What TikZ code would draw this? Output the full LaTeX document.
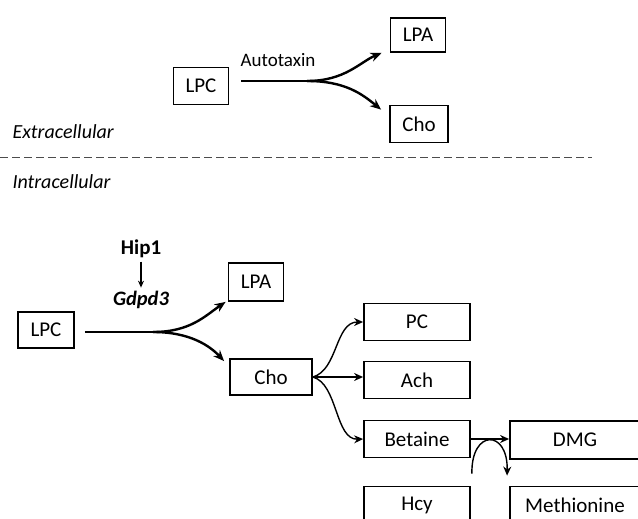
\documentclass[tikz,border=0pt]{standalone}
\usepackage{fontspec}
\setmainfont{Carlito}
\usetikzlibrary{arrows.meta, positioning, calc}

\begin{document}
\begin{tikzpicture}[x=1pt, y=-1pt, >={Stealth[length=11pt, width=9pt]},
    box/.style={draw, line width=1.8pt, minimum height=37pt, inner sep=0pt,
                font=\fontsize{21}{25}\selectfont},
    flow/.style={->, line width=2.4pt},
    fan/.style={->, line width=1.4pt, >={Stealth[length=9pt, width=8pt]}},
    side/.style={font=\fontsize{20}{24}\selectfont\itshape, anchor=west}]

    \useasboundingbox (0,0) rectangle (638,519);
    \clip (0,0) rectangle (638,519);

    % extracellular part:

    \node[box, minimum width=55pt] (lpcout) at (201,86) {LPC};
    \node[box, minimum width=55pt, minimum height=34pt] (lpaout) at (418,35) {LPA};
    \node[box, minimum width=58pt] (choout) at (419,124) {Cho};
    \node[font=\fontsize{19}{23}\selectfont] (atx) at (278,60) {Autotaxin};

    \coordinate (splitout) at (307,81);
    \draw[line width=2.4pt] ($(lpcout.east)+(12,-5)$) -- (splitout);
    \draw[flow] (splitout) .. controls (345,81) and (360,62) .. ($(lpaout.south west)+(-8,0)$);
    \draw[flow] (splitout) .. controls (345,81) and (362,94) .. ($(choout.north west)+(-8,5)$);

    \node[side] (extra) at (9,132) {Extracellular};
    \draw[line width=1pt, gray!60!black, dash pattern=on 8pt off 4pt] (0,157) -- (592,157);
    \node[side] (intra) at (9,182) {Intracellular};

    % intracellular part:

    \node[font=\fontsize{21}{25}\selectfont\bfseries] (hip) at (141,249) {Hip1};
    \node[font=\fontsize{20.5}{25}\selectfont\bfseries\itshape] (gdpd) at (141,300) {Gdpd3};
    \draw[->, line width=1.2pt, >={Stealth[length=7pt, width=6pt]}] (hip.south) -- (gdpd.north);

    \node[box, minimum width=56pt, minimum height=36pt] (lpc) at (46,330) {LPC};
    \node[box, minimum width=55pt, minimum height=38pt] (lpa) at (256,282) {LPA};
    \node[box, minimum width=82pt, minimum height=36pt] (cho) at (271,377) {Cho};

    \coordinate (split) at (153,332);
    \draw[line width=2.4pt] ($(lpc.east)+(10,2)$) -- (split);
    \draw[flow] (split) .. controls (190,332) and (205,316) .. ($(lpa.south west)+(-2,0)$);
    \draw[flow] (split) .. controls (190,332) and (210,346) .. ($(cho.north west)+(-5,3)$);

    \node[box, minimum width=106pt] (pc) at (417,322) {PC};
    \node[box, minimum width=106pt] (ach) at (417,380) {Ach};
    \node[box, minimum width=106pt] (bet) at (417,439) {Betaine};
    \node[box, minimum width=106pt] (hcy) at (417,505) {Hcy};
    \node[box, minimum width=130pt, minimum height=38pt] (dmg) at (575,440) {DMG};
    \node[box, minimum width=130pt] (met) at (575,505) {Methionine};

    \draw[fan] (cho.east) .. controls (338,370) and (335,322) .. (pc.west);
    \draw[fan] (cho.east) -- (cho.east -| ach.west);
    \draw[fan] (cho.east) .. controls (338,384) and (335,440) .. (bet.west);
    \draw[fan] (bet.east) -- (bet.east -| dmg.west);

    \draw[fan] ($(hcy.north east)+(1,-12)$) .. controls (471,429) and (508,429) .. ($(met.north west)+(-2,-10)$);

\end{tikzpicture}
\end{document}
